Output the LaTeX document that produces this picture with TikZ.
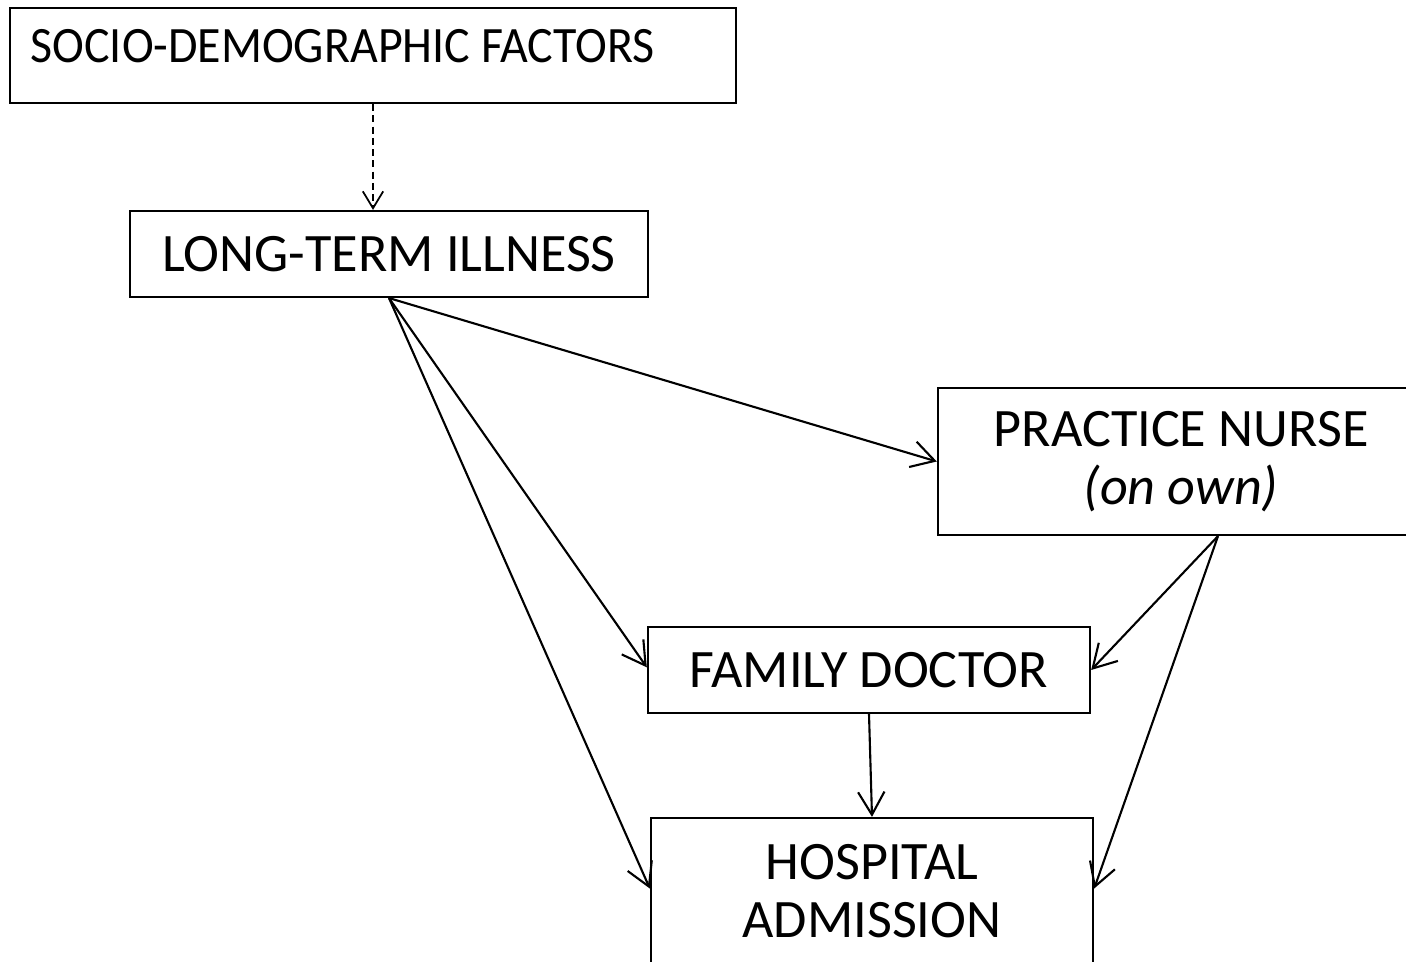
\documentclass[tikz,border=0pt]{standalone}
\usepackage{fontspec}
\setmainfont{Carlito}
\usetikzlibrary{arrows.meta,calc}
\begin{document}
\begin{tikzpicture}[x=0.01cm,y=-0.01cm,
  txt/.style={font=\fontsize{15.4pt}{16.5pt}\selectfont},
  box/.style={draw, line width=0.6pt, inner sep=0pt, align=center, txt},
  link/.style={line width=0.6pt, -{Straight Barb[length=6.5pt,width=7.5pt]}},
  dlink/.style={line width=0.5pt, dash pattern=on 2pt off 1.2pt, -{Straight Barb[length=4.8pt,width=5.8pt]}}]
\clip (0,0) rectangle (1406,962);
% boxes
\node[box, minimum width=7.26cm, minimum height=0.95cm] (sdf) at (373,55.5) {};
\node[font=\fontsize{14.5pt}{16pt}\selectfont, anchor=base west, inner sep=0pt, xscale=0.94] (sdflabel) at (30,63) {SOCIO-DEMOGRAPHIC FACTORS};
\node[box, minimum width=5.18cm, minimum height=0.86cm] (lti) at (389,254) {LONG-TERM ILLNESS};
\node[box, minimum width=4.86cm, minimum height=1.47cm] (pn) at (1181,461.5) {PRACTICE NURSE\\\textit{(on own)}};
\node[box, minimum width=4.42cm, minimum height=0.86cm] (fd) at (869,670) {FAMILY DOCTOR};
\node[box, minimum width=4.42cm, minimum height=1.47cm] (ha) at (872,891.5) {HOSPITAL\\ADMISSION};
% connectors
\draw[dlink] (sdf.south) -- (sdf.south |- lti.north);
\draw[link] (lti.south) -- (pn.west);
\draw[link] (lti.south) -- ($(fd.north west)!0.47!(fd.south west)$);
\draw[link] (lti.south) -- ($(ha.north west)!0.48!(ha.south west)$);
\draw[link] ($(pn.south)+(37,0)$) -- (fd.east);
\draw[link] ($(pn.south)+(37,0)$) -- ($(ha.north east)!0.48!(ha.south east)$);
\draw[link] (fd.south) -- (ha.north);
\end{tikzpicture}
\end{document}
